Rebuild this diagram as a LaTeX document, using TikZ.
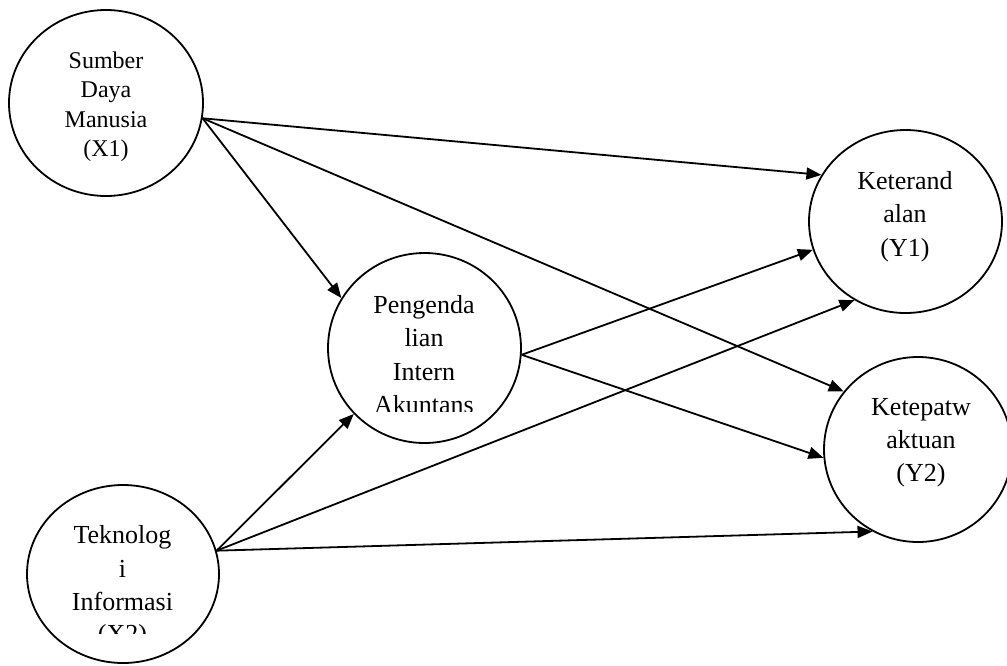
\documentclass[tikz,border=0pt]{standalone}
\usepackage{fontspec}
\setmainfont{Liberation Serif}
\usetikzlibrary{shapes.geometric,arrows.meta}
\begin{document}
\begin{tikzpicture}[x=1pt,y=-1pt,
  var/.style={draw,ellipse,line width=1.8pt,inner sep=0pt},
  lbl/.style={anchor=base,inner sep=0pt,font=\fontsize{26}{31}\selectfont},
  lbls/.style={anchor=base,inner sep=0pt,font=\fontsize{24}{29}\selectfont},
  conn/.style={-{Triangle[length=15pt,width=12pt]},line width=1.8pt}]
\useasboundingbox (0,0) rectangle (1007,665);
% variables
\node[var,minimum width=194pt,minimum height=186pt] (x1) at (106,103) {};
\node[var,minimum width=193pt,minimum height=190pt] (pi) at (424.5,348) {};
\node[var,minimum width=193pt,minimum height=183pt] (y1) at (905.5,221.5) {};
\node[var,minimum width=188pt,minimum height=185pt] (y2) at (918,449.5) {};
\node[var,minimum width=192pt,minimum height=178pt] (x2) at (123,574) {};
% labels
\node[lbls] (x1a) at (106,68) {Sumber};
\node[lbls] (x1b) at (106,97.5) {Daya};
\node[lbls] (x1c) at (106,127) {Manusia};
\node[lbls] (x1d) at (106,156.5) {(X1)};
\begin{scope}
\clip (320,250) rectangle (530,411.5);
\node[lbl] (pia) at (424,313) {Pengenda};
\node[lbl] (pib) at (424,346.5) {lian};
\node[lbl] (pic) at (424,380) {Intern};
\node[lbl] (pid) at (424,413.5) {Akuntans};
\end{scope}
\node[lbl] (y1a) at (905,189) {Keterand};
\node[lbl] (y1b) at (905,222) {alan};
\node[lbl] (y1c) at (905,256) {(Y1)};
\node[lbl] (y2a) at (921,415) {Ketepatw};
\node[lbl] (y2b) at (921,448) {aktuan};
\node[lbl] (y2c) at (921,481) {(Y2)};
\begin{scope}
\clip (20,480) rectangle (230,633);
\node[lbl] (x2a) at (122.5,543) {Teknolog};
\node[lbl] (x2b) at (122.5,577) {i};
\node[lbl] (x2c) at (122.5,610) {Informasi};
\node[lbl] (x2d) at (122.5,642) {(X2)};
\end{scope}
% connectors
\draw[conn] (x1.-9.4) -- (y1.151.5);
\draw[conn] (x1.-9.4) -- (y2.142.5);
\draw[conn] (x1.-9.4) -- (pi.149.8);
\draw[conn] (pi.-4.7) -- (y1.197.9);
\draw[conn] (pi.-4.7) -- (y2.185.1);
\draw[conn] (x2.14) -- (pi.223.9);
\draw[conn] (x2.14) -- (y1.237.2);
\draw[conn] (x2.14) -- (y2.241.9);
\end{tikzpicture}
\end{document}
